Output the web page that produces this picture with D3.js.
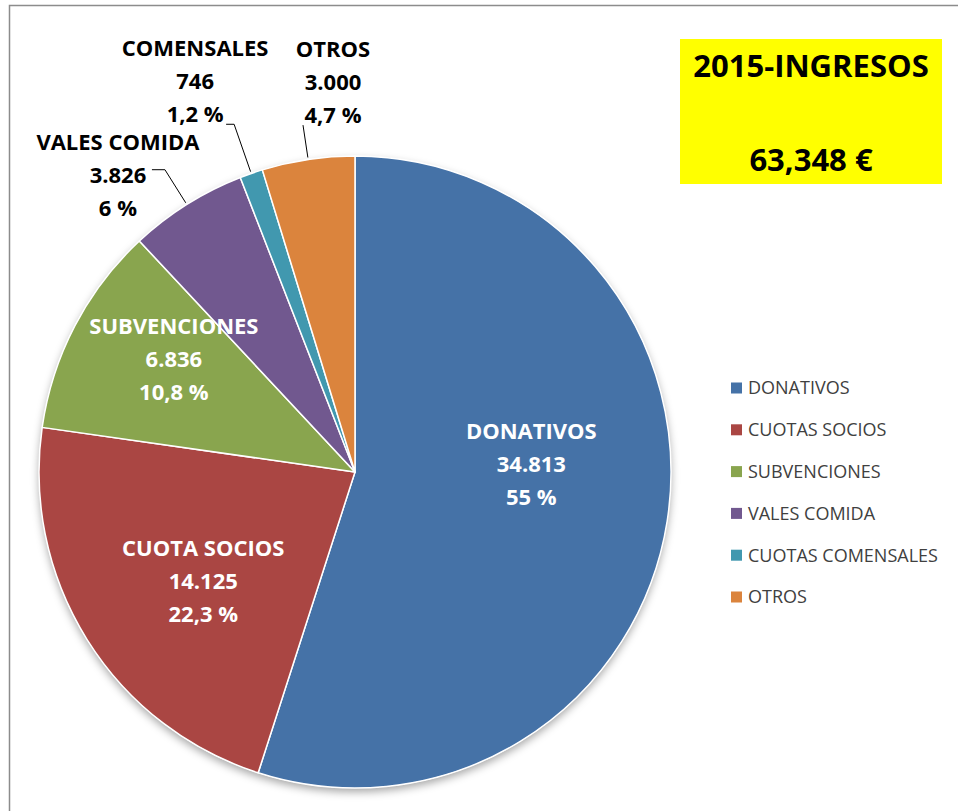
<!DOCTYPE html>
<html>
<head>
<meta charset="utf-8">
<title>2015 - Ingresos</title>
<script src="https://d3js.org/d3.v7.min.js"></script>
<style>
  body { margin: 0; background: #fff; }
  svg { display: block; font-family: "Open Sans", Carlito, Calibri, sans-serif; }
</style>
</head>
<body>
<div id="chart"></div>
<script>
// data
var categories = ["DONATIVOS", "CUOTAS SOCIOS", "SUBVENCIONES", "VALES COMIDA", "CUOTAS COMENSALES", "OTROS"];
var sliceLabels = ["DONATIVOS", "CUOTA SOCIOS", "SUBVENCIONES", "VALES COMIDA", "COMENSALES", "OTROS"];
var values = [34813, 14125, 6836, 3826, 746, 3000];
var percentLabels = ["55 %", "22,3 %", "10,8 %", "6 %", "1,2 %", "4,7 %"];
var colors = ["#4572A7", "#AA4643", "#89A54E", "#71588F", "#4198AF", "#DB843D"];
var titleLines = ["2015-INGRESOS", "63,348 €"];

var W = 958, H = 811;
var cx = 355, cy = 472, r = 316;

var svg = d3.select("#chart").append("svg")
    .attr("width", W)
    .attr("height", H);

// frame (only left and top edges are visible)
svg.append("path")
    .attr("d", "M9.5," + H + "V5.5H" + W)
    .attr("fill", "none")
    .attr("stroke", "#8c8c8c")
    .attr("stroke-width", 1.5);

var defs = svg.append("defs");
var shadow = defs.append("filter").attr("id", "shadow")
    .attr("x", "-10%").attr("y", "-10%").attr("width", "120%").attr("height", "125%");
shadow.append("feDropShadow")
    .attr("dx", 0).attr("dy", 4).attr("stdDeviation", 4)
    .attr("flood-color", "#000").attr("flood-opacity", 0.35);

var fmt = d3.formatLocale({decimal: ",", thousands: ".", grouping: [3], currency: ["", " €"]}).format(",d");

var pie = d3.pie().sort(null).value(function(d) { return d; });
var arcs = pie(values);

var arc = d3.arc().innerRadius(0).outerRadius(r);
var labelArc = d3.arc().innerRadius(r * 0.6).outerRadius(r * 0.6);
var edgeArc = d3.arc().innerRadius(r + 2).outerRadius(r + 2);

var g = svg.append("g").attr("transform", "translate(" + cx + "," + cy + ")");

g.append("circle").attr("r", r).attr("fill", "#fff").attr("filter", "url(#shadow)");

g.selectAll("path.slice")
    .data(arcs)
    .enter().append("path")
    .attr("class", "slice")
    .attr("d", arc)
    .attr("fill", function(d, i) { return colors[i]; })
    .attr("stroke", "#fff")
    .attr("stroke-width", 1.5)
    .attr("stroke-linejoin", "round");

// label placement: big slices inside, small ones outside with leader lines
var lineH = 33;
var inside = {0: [-11, -37], 1: [9, 9], 2: [-13, -25]};
// k: elbow radius factor, dx/dy: text block centre offset from elbow, line: which line sits at dy, tick: horizontal end of leader
var outside = {
    3: {k: 1.13, dx: -47, dy: 5.5, line: 1, tick: -13},
    4: {k: 1.165, dx: -39, dy: -9.6, line: 2, tick: -8},
    5: {k: 1.11, dx: 30, dy: -10, line: 2, tick: 0}
};

arcs.forEach(function(d, i) {
    var lines = [sliceLabels[i], fmt(values[i]), percentLabels[i]];
    var x, y0, fill;
    if (inside[i]) {
        var c = labelArc.centroid(d);
        x = cx + c[0] + inside[i][0];
        y0 = cy + c[1] + inside[i][1] - lineH;
        fill = "#fff";
    } else {
        var o = outside[i];
        var e = edgeArc.centroid(d);
        var b = d3.arc().innerRadius(r * o.k).outerRadius(r * o.k).centroid(d);
        var ex = cx + e[0], ey = cy + e[1], bx = cx + b[0], by = cy + b[1];
        var pts = [[ex, ey], [bx, by]];
        if (o.tick) pts.push([bx + o.tick, by]);
        svg.append("path")
            .attr("d", d3.line()(pts))
            .attr("fill", "none")
            .attr("stroke", "#000")
            .attr("stroke-width", 1);
        x = bx + o.dx;
        y0 = by + o.dy - o.line * lineH;
        fill = "#000";
    }
    var t = svg.append("text")
        .attr("text-anchor", "middle")
        .attr("font-weight", "bold")
        .attr("font-size", 22)
        .attr("fill", fill);
    lines.forEach(function(s, k) {
        t.append("tspan")
            .attr("x", x)
            .attr("y", y0 + k * lineH)
            .attr("dy", "0.35em")
            .text(s);
    });
});

// legend
var legend = svg.append("g").attr("transform", "translate(731,388)");
var rows = legend.selectAll("g")
    .data(categories)
    .enter().append("g")
    .attr("transform", function(d, i) { return "translate(0," + (i * 41.8) + ")"; });
rows.append("rect")
    .attr("x", 0).attr("y", -5.5)
    .attr("width", 11).attr("height", 11)
    .attr("fill", function(d, i) { return colors[i]; });
rows.append("text")
    .attr("x", 17)
    .attr("dy", "0.35em")
    .attr("font-size", 18)
    .attr("fill", "#404040")
    .text(function(d) { return d; });

// title box
var tb = svg.append("g");
tb.append("rect")
    .attr("x", 680).attr("y", 39)
    .attr("width", 262).attr("height", 145)
    .attr("fill", "#ffff00");
tb.selectAll("text")
    .data(titleLines)
    .enter().append("text")
    .attr("x", 811)
    .attr("y", function(d, i) { return i === 0 ? 66 : 160; })
    .attr("dy", "0.35em")
    .attr("text-anchor", "middle")
    .attr("font-weight", "bold")
    .attr("font-size", 31)
    .attr("fill", "#000")
    .text(function(d) { return d; });
</script>
</body>
</html>
